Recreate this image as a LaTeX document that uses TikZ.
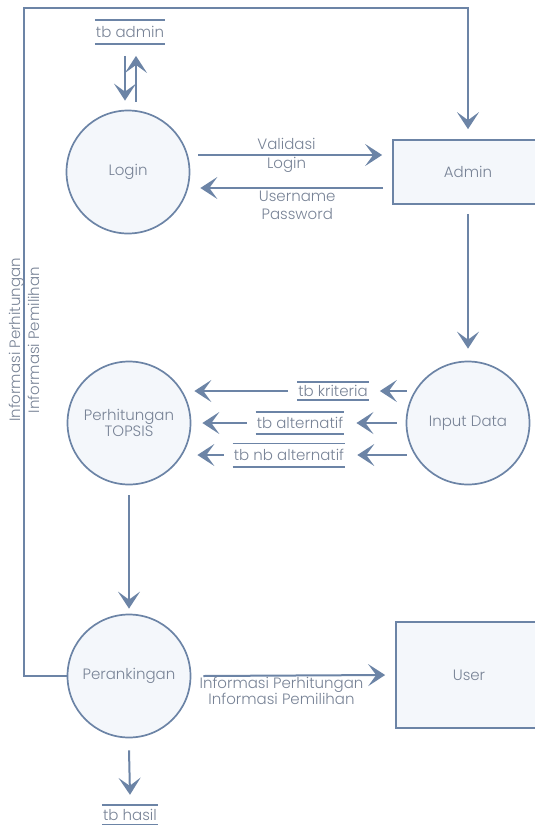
\documentclass[tikz,border=0pt]{standalone}
\usepackage{fontspec}
\setmainfont{Poppins Light}
\usetikzlibrary{arrows.meta,calc}
\definecolor{lc}{RGB}{108,132,166}
\definecolor{tc}{RGB}{120,131,150}
\definecolor{cfill}{RGB}{244,247,251}
\begin{document}
\begin{tikzpicture}[x=1pt,y=-1pt,
  every node/.style={font=\fontsize{15}{18}\selectfont, text=tc},
  proc/.style={circle, draw=lc, line width=1.7pt, fill=cfill, minimum size=123pt, inner sep=0pt, align=center},
  ent/.style={rectangle, draw=lc, line width=1.7pt, fill=cfill},
  flow/.style={draw=lc, line width=2pt, -{Stealth[length=17pt,width=22pt,inset=8pt]}},
  store/.style={inner xsep=1pt, inner ysep=0pt},
  sline/.style={draw=lc, line width=1.6pt},
  lbl/.style={align=center}
]
\useasboundingbox (0,0) rectangle (535,825);

% processes and entities
\node[proc] (login) at (128,172) {Login};
\node[ent, minimum width=150pt, minimum height=64pt] (admin) at (468,172) {Admin};
\node[proc] (input) at (468,423) {Input Data};
\node[proc, font=\fontsize{15}{16}\selectfont] (topsis) at (129,423) {Perhitungan\\TOPSIS};
\node[proc] (perank) at (129,676) {Perankingan};
\node[ent, minimum width=146pt, minimum height=106pt] (user) at (469,675) {User};

% data stores
\node[store, minimum height=23.5pt] (tbadmin) at (130,32) {tb admin};
\node[store, minimum height=18pt] (tbkrit) at (333,391) {tb kriteria};
\node[store, minimum height=22pt] (tbalt) at (300,423) {tb alternatif};
\node[store, minimum height=23pt] (tbnb) at (289,455) {tb nb alternatif};
\node[store, minimum height=20pt] (tbhasil) at (130,815) {tb hasil};
\foreach \s in {tbadmin,tbkrit,tbalt,tbnb,tbhasil}{
  \draw[sline] (\s.north west) -- (\s.north east);
  \draw[sline] (\s.south west) -- (\s.south east);
}

% loop from Perankingan to Admin
\coordinate (lpL) at (24,8);
\coordinate (lpR) at (468,8);
\draw[flow] (perank.west) -| (lpL) -- (lpR) -- ([yshift=10pt]admin.north);
\node[lbl, rotate=90, font=\fontsize{15}{19}\selectfont] (lftlbl) at (24,340) {Informasi Perhitungan\\Informasi Pemilihan};

% tb admin <-> Login
\draw[flow] ([shift={(-5,12)}]tbadmin.south) -- ([shift={(-3,-9)}]login.north);
\draw[flow] ([shift={(8,-8)}]login.north) -- ([shift={(6,12)}]tbadmin.south);

% Login <-> Admin
\draw[flow] ([shift={(8,-17)}]login.east) -- node[lbl, inner sep=0pt, pos=0.48, font=\fontsize{15}{19}\selectfont] (vl) {Validasi\\Login} ([shift={(-10,-17)}]admin.west);
\draw[flow] ([shift={(-9,16)}]admin.west) -- node[lbl, below, pos=0.47, inner sep=2pt] (up) {Username\\Password} ([shift={(10,16)}]login.east);

% Admin -> Input Data
\draw[flow] ([yshift=-9pt]admin.south) -- ([yshift=12pt]input.north);

% Input Data -> stores -> TOPSIS
\draw[flow] ($(tbkrit.east -| input.west)+(1,0)$) -- ([xshift=11pt]tbkrit.east);
\draw[flow] ([xshift=-9pt]tbkrit.west) -- ($(tbkrit.west -| topsis.east)+(3,0)$);
\draw[flow] ($(tbalt.east -| input.west)+(-9,0)$) -- ([xshift=12pt]tbalt.east);
\draw[flow] ([xshift=-9pt]tbalt.west) -- ($(tbalt.west -| topsis.east)+(11,0)$);
\draw[flow] ($(tbnb.east -| input.west)+(1,0)$) -- ([xshift=12pt]tbnb.east);
\draw[flow] ([xshift=-9pt]tbnb.west) -- ($(tbnb.west -| topsis.east)+(6,0)$);

% TOPSIS -> Perankingan
\draw[flow] ([yshift=-10pt]topsis.south) -- ([yshift=5pt]perank.north);

% Perankingan -> User
\draw[flow] ([xshift=12pt]perank.east) -- node[lbl, below, pos=0.43, inner sep=1pt, font=\fontsize{15}{16}\selectfont] (info) {Informasi Perhitungan\\Informasi Pemilihan} ([xshift=-10pt]user.west);

% Perankingan -> tb hasil
\draw[flow] ([yshift=-12pt]perank.south) -- ([yshift=10pt]tbhasil.north);
\end{tikzpicture}
\end{document}
